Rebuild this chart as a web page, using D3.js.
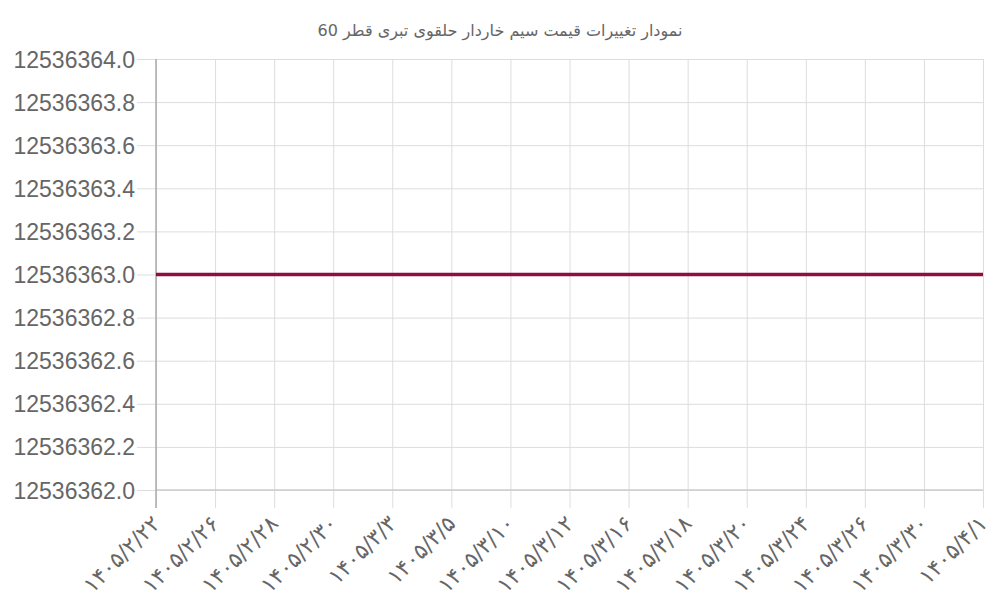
<!DOCTYPE html>
<html>
<head>
<meta charset="utf-8">
<script src="https://cdn.jsdelivr.net/npm/d3@7.9.0/dist/d3.min.js"></script>
<style>
  body { margin: 0; background: #fff; }
  svg { display: block; font-family: "Liberation Sans", Arial, sans-serif; }
</style>
</head>
<body>
<svg id="chart" width="1000" height="600"></svg>
<script>
// chart data
const title = 'نمودار تغییرات قیمت سیم خاردار حلقوی تبری قطر 60';
const dates = ['۱۴۰۵/۲/۲۲', '۱۴۰۵/۲/۲۶', '۱۴۰۵/۲/۲۸', '۱۴۰۵/۲/۳۰', '۱۴۰۵/۳/۳',
  '۱۴۰۵/۳/۵', '۱۴۰۵/۳/۱۰', '۱۴۰۵/۳/۱۲', '۱۴۰۵/۳/۱۶', '۱۴۰۵/۳/۱۸',
  '۱۴۰۵/۳/۲۰', '۱۴۰۵/۳/۲۴', '۱۴۰۵/۳/۲۶', '۱۴۰۵/۳/۳۰', '۱۴۰۵/۴/۱'];
const prices = [12536363, 12536363, 12536363, 12536363, 12536363,
  12536363, 12536363, 12536363, 12536363, 12536363,
  12536363, 12536363, 12536363, 12536363, 12536363];
const yTicks = [12536362.0, 12536362.2, 12536362.4, 12536362.6, 12536362.8,
  12536363.0, 12536363.2, 12536363.4, 12536363.6, 12536363.8, 12536364.0];

const margin = { top: 59, right: 17, bottom: 110, left: 156 };
const width = 1000 - margin.left - margin.right;
const height = 600 - margin.top - margin.bottom;

const svg = d3.select('#chart');

svg.append('text')
  .attr('x', 500)
  .attr('y', 36)
  .attr('text-anchor', 'middle')
  .attr('fill', '#666')
  .attr('font-size', 16)
  .attr('font-family', '"DejaVu Sans", sans-serif')
  .text(title);

const g = svg.append('g').attr('transform', `translate(${margin.left},${margin.top})`);

let x = d3.scalePoint().domain(dates).range([0, width]);
let y = d3.scaleLinear().domain([12536362, 12536364]).range([height, 0]);

// horizontal grid + y ticks
g.append('g')
  .call(d3.axisLeft(y).tickValues(yTicks).tickSize(-width).tickFormat(d3.format('.1f')).tickPadding(3))
  .call(ax => ax.select('.domain').remove())
  .call(ax => ax.selectAll('line').attr('stroke', '#ddd').attr('x1', -19))
  .call(ax => ax.selectAll('text').attr('fill', '#666').attr('font-size', 23).attr('x', -21).attr('dy', '0.35em'));

// vertical grid + x ticks
g.append('g')
  .attr('transform', `translate(0,${height})`)
  .call(d3.axisBottom(x).tickSize(-height).tickPadding(0))
  .call(ax => ax.select('.domain').remove())
  .call(ax => ax.selectAll('line').attr('stroke', '#ddd').attr('y2', 18).attr('y1', -height))
  .call(ax => ax.selectAll('text')
    .attr('fill', '#666')
    .attr('font-size', 22)
    .attr('font-family', '"DejaVu Sans", sans-serif')
    .attr('text-anchor', 'end')
    .attr('dy', 0)
    .attr('y', 0)
    .attr('transform', 'translate(5,35) rotate(-45)'));

// axis lines
g.append('line')
  .attr('x1', 0).attr('x2', width)
  .attr('y1', height).attr('y2', height)
  .attr('stroke', '#ccc').attr('stroke-width', 1.5);
g.append('line')
  .attr('x1', 0).attr('x2', 0)
  .attr('y1', 0).attr('y2', height + 18)
  .attr('stroke', '#aaa').attr('stroke-width', 1.5);

// price line
const line = d3.line()
  .x((d, i) => x(dates[i]))
  .y(d => y(d));

g.append('path')
  .datum(prices)
  .attr('d', line)
  .attr('fill', 'none')
  .attr('stroke', '#8c0f3e')
  .attr('stroke-width', 3.5);
</script>
</body>
</html>
